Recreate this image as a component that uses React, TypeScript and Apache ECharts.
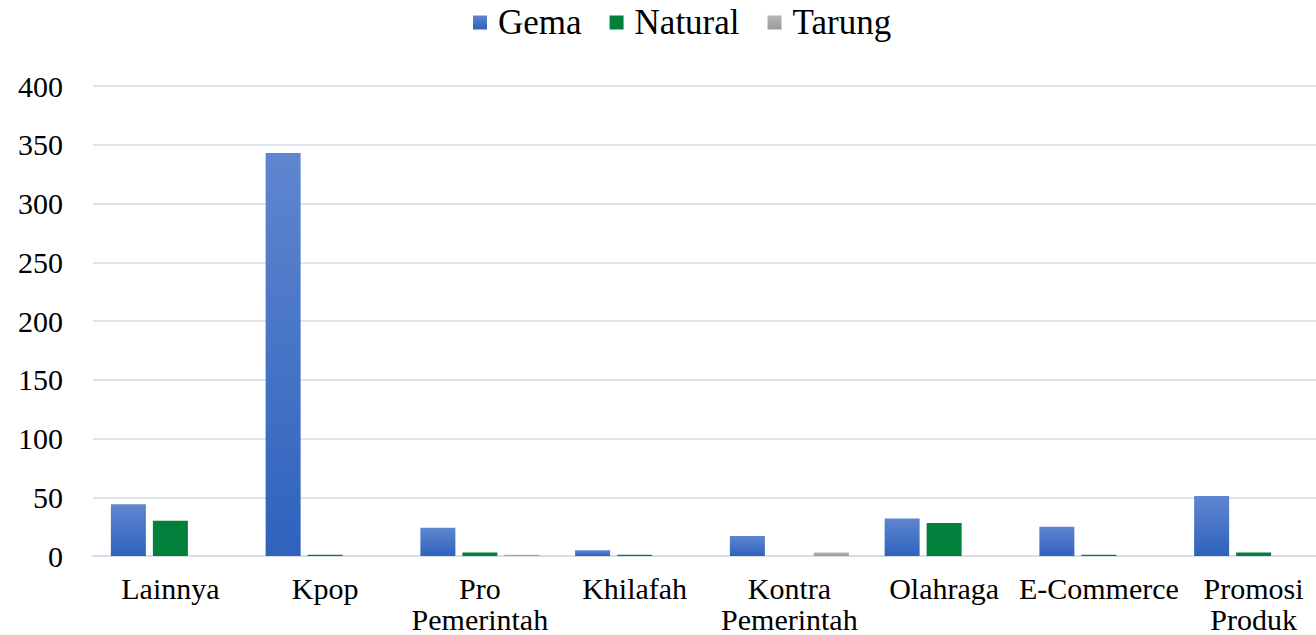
import React, { useEffect, useRef } from "react";
import * as echarts from "echarts";

const categories = [
  "Lainnya",
  "Kpop",
  "Pro Pemerintah",
  "Khilafah",
  "Kontra Pemerintah",
  "Olahraga",
  "E-Commerce",
  "Promosi Produk",
];
const gema = [44, 343, 24, 5, 17, 32, 25, 51];
const natural = [30, 1, 3, 1, null, 28, 1, 3];
const tarung = [null, null, 1, null, 3, null, null, null];
const yTicks = [0, 50, 100, 150, 200, 250, 300, 350, 400];

const FONT = "'Liberation Serif', 'Times New Roman', Times, serif";

export default function App() {
  const ref = useRef<HTMLDivElement>(null);
  useEffect(() => {
    document.body.style.margin = "0";
    document.body.style.overflow = "hidden";
    const chart = echarts.init(ref.current!, null, { renderer: "svg" });
    const grad = (top: string, bottom: string) =>
      new echarts.graphic.LinearGradient(0, 0, 0, 1, [
        { offset: 0, color: top },
        { offset: 1, color: bottom },
      ]);
    chart.setOption({
      animation: false,
      backgroundColor: "#ffffff",
      legend: {
        top: 0,
        left: 468,
        itemWidth: 14,
        itemHeight: 14,
        itemGap: 28,
        icon: "rect",
        textStyle: { fontFamily: FONT, fontSize: 35, color: "#000", padding: [0, 0, 0, 6] },
        data: ["Gema", "Natural", "Tarung"],
      },
      grid: { left: 93, right: 0, top: 86, bottom: 74, containLabel: false },
      xAxis: {
        type: "category",
        data: categories,
        axisLine: { lineStyle: { color: "#d9dde6", width: 2 } },
        axisTick: { show: false },
        axisLabel: {
          interval: 0,
          margin: 17,
          fontFamily: FONT,
          fontSize: 30,
          color: "#000",
          lineHeight: 31,
          formatter: (v: string) => v.replace(" ", "\n"),
        },
      },
      yAxis: {
        type: "value",
        min: yTicks[0],
        max: yTicks[yTicks.length - 1],
        interval: 50,
        axisLine: { show: false },
        axisTick: { show: false },
        splitLine: { lineStyle: { color: "#dfe3eb", width: 2 } },
        axisLabel: { margin: 30, fontFamily: FONT, fontSize: 30, color: "#000" },
      },
      series: [
        {
          name: "Gema",
          type: "bar",
          data: gema,
          barWidth: 35,
          barGap: "20%",
          itemStyle: { color: grad("#5f86cf", "#2f62bd") },
        },
        {
          name: "Natural",
          type: "bar",
          data: natural,
          barWidth: 35,
          barGap: "20%",
          itemStyle: { color: "#00803a" },
        },
        {
          name: "Tarung",
          type: "bar",
          data: tarung,
          barWidth: 35,
          barGap: "20%",
          itemStyle: { color: grad("#b5b5b5", "#9a9a9a") },
        },
      ],
    });
    return () => chart.dispose();
  }, []);
  return (
    <div
      ref={ref}
      style={{ position: "fixed", left: 0, top: 0, width: 1331, height: 635 }}
    />
  );
}
